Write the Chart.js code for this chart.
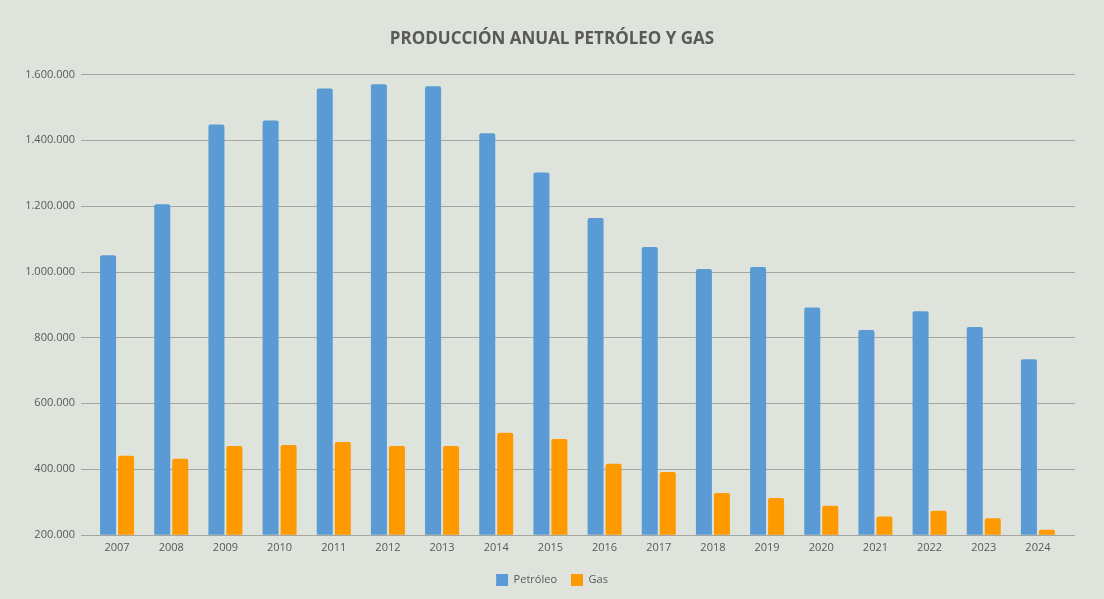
<!DOCTYPE html>
<html>
<head>
<meta charset="utf-8">
<script src="https://cdn.jsdelivr.net/npm/chart.js@4/dist/chart.umd.min.js"></script>
<style>
  html, body { margin: 0; padding: 0; background: #DEE4DB; }
  #wrap { width: 1104px; height: 599px; }
</style>
</head>
<body>
<div id="wrap"><canvas id="c" width="1104" height="599"></canvas></div>
<script>
const years = ['2007','2008','2009','2010','2011','2012','2013','2014','2015','2016','2017','2018','2019','2020','2021','2022','2023','2024'];
const petroleo = [1050000,1205000,1448000,1460000,1557000,1570000,1564000,1421000,1302000,1163000,1075000,1008000,1014000,891000,823000,880000,832000,734000];
const gas = [440000,431000,470000,473000,482000,470000,470000,510000,491000,416000,391000,327000,312000,288000,256000,273000,250000,215000];
const yTicks = [200000,400000,600000,800000,1000000,1200000,1400000,1600000];

const fmt = v => String(v).replace(/\B(?=(\d{3})+(?!\d))/g, '.');

const gridPlugin = {
  id: 'extGrid',
  beforeDatasetsDraw(chart) {
    const {ctx, chartArea, scales} = chart;
    ctx.save();
    ctx.strokeStyle = '#A3A6A1';
    ctx.lineWidth = 1;
    scales.y.ticks.forEach(t => {
      const y = Math.round(scales.y.getPixelForValue(t.value)) + 0.5;
      ctx.beginPath();
      ctx.moveTo(chartArea.left - 9, y);
      ctx.lineTo(chartArea.right + 10, y);
      ctx.stroke();
    });
    ctx.restore();
  }
};

new Chart(document.getElementById('c'), {
  type: 'bar',
  data: {
    labels: years,
    datasets: [
      { label: 'Petróleo', data: petroleo, backgroundColor: '#5B9BD5', borderRadius: 2, borderSkipped: 'bottom', categoryPercentage: 0.664, barPercentage: 0.89 },
      { label: 'Gas', data: gas, backgroundColor: '#FF9900', borderRadius: 2, borderSkipped: 'bottom', categoryPercentage: 0.664, barPercentage: 0.89 }
    ]
  },
  options: {
    responsive: false,
    animation: false,
    layout: { padding: { left: 0, right: 0, top: 0, bottom: 3 } },
    plugins: {
      title: {
        display: true,
        text: 'PRODUCCIÓN ANUAL PETRÓLEO Y GAS',
        color: '#595959',
        font: { family: 'Open Sans', size: 17, weight: 'bold' },
        padding: { top: 29, bottom: 25 }
      },
      legend: {
        position: 'bottom',
        labels: {
          color: '#595959',
          font: { family: 'Open Sans', size: 11 },
          boxWidth: 12, boxHeight: 12,
          padding: 14
        }
      },
      tooltip: { enabled: false }
    },
    scales: {
      x: {
        grid: { display: false, drawTicks: false },
        border: { display: false },
        ticks: { color: '#595959', font: { family: 'Open Sans', size: 11 }, padding: 6 }
      },
      y: {
        min: 200000, max: 1600000,
        afterBuildTicks(scale) { scale.ticks = yTicks.map(v => ({ value: v })); },
        afterFit(scale) { scale.width = 90; },
        grid: { display: false, drawTicks: false },
        border: { display: false },
        ticks: { color: '#595959', font: { family: 'Open Sans', size: 11 }, padding: 15, callback: v => fmt(v) }
      },
      yRight: {
        position: 'right',
        min: 0, max: 1,
        afterFit(scale) { scale.width = 39; },
        grid: { display: false, drawTicks: false },
        border: { display: false },
        ticks: { display: false }
      }
    }
  },
  plugins: [gridPlugin, {
    id: 'bg',
    beforeDraw(chart) {
      const ctx = chart.ctx;
      ctx.save();
      ctx.fillStyle = '#DEE4DB';
      ctx.fillRect(0, 0, chart.width, chart.height);
      ctx.restore();
    }
  }]
});
</script>
</body>
</html>
